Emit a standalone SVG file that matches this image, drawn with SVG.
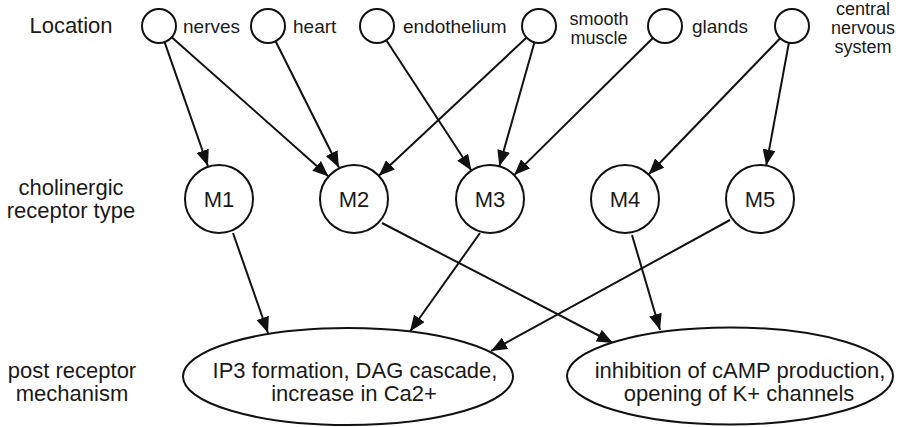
<svg xmlns="http://www.w3.org/2000/svg" width="899" height="427" viewBox="0 0 899 427">
<style>
  .node { fill: #fff; stroke: #111; stroke-width: 2; }
  .edge { stroke: #111; stroke-width: 2; fill: none; marker-end: url(#arrow); }
  text { font-family: "Liberation Sans", Arial, Helvetica, sans-serif; fill: #1a1a1a; }
  .lbl { font-size: 22px; text-anchor: middle; }
  .loc { font-size: 19px; }
  .locm { font-size: 18px; text-anchor: middle; }
</style>
<defs>
  <marker id="arrow" viewBox="0 0 16 13" refX="16" refY="6.5" markerWidth="16" markerHeight="13" markerUnits="userSpaceOnUse" orient="auto">
    <path d="M0,0 L16,6.5 L0,13 z" fill="#111"/>
  </marker>
</defs>
<rect width="899" height="427" fill="#fff"/>

<g id="row-labels">
  <text class="lbl" x="71" y="33">Location</text>
  <text class="lbl" x="71" y="195">cholinergic</text>
  <text class="lbl" x="71" y="218">receptor type</text>
  <text class="lbl" x="72" y="378">post receptor</text>
  <text class="lbl" x="72" y="401">mechanism</text>
</g>

<g id="connectors">
  <line class="edge" x1="164.6" y1="42.1" x2="207.9" y2="166"/>
  <line class="edge" x1="171.7" y1="37.3" x2="328.6" y2="176.4"/>
  <line class="edge" x1="275.6" y1="41.2" x2="338.9" y2="167.5"/>
  <line class="edge" x1="386.3" y1="40.2" x2="471.4" y2="170.5"/>
  <line class="edge" x1="526.6" y1="37.6" x2="378.8" y2="175.8"/>
  <line class="edge" x1="534.4" y1="42.4" x2="499.3" y2="166.3"/>
  <line class="edge" x1="652.9" y1="38" x2="514.2" y2="175.1"/>
  <line class="edge" x1="780.2" y1="38.2" x2="648.6" y2="174.5"/>
  <line class="edge" x1="788.9" y1="42.7" x2="766.2" y2="165.6"/>
  <line class="edge" x1="233" y1="233" x2="268" y2="333"/>
  <line class="edge" x1="480" y1="233" x2="410" y2="331.5"/>
  <line class="edge" x1="730" y1="220" x2="491" y2="351"/>
  <line class="edge" x1="382" y1="223" x2="613" y2="343"/>
  <line class="edge" x1="632" y1="235" x2="660" y2="330"/>
</g>

<g id="loc-nerves">
  <circle class="node" cx="159" cy="26" r="17"/>
  <text class="loc" x="183" y="33">nerves</text>
</g>
<g id="loc-heart">
  <circle class="node" cx="268" cy="26" r="17"/>
  <text class="loc" x="293" y="33">heart</text>
</g>
<g id="loc-endothelium">
  <circle class="node" cx="377" cy="26" r="17"/>
  <text class="loc" x="403" y="33">endothelium</text>
</g>
<g id="loc-smooth-muscle">
  <circle class="node" cx="539" cy="26" r="17"/>
  <text class="locm" x="599" y="25">smooth</text>
  <text class="locm" x="599" y="44">muscle</text>
</g>
<g id="loc-glands">
  <circle class="node" cx="665" cy="26" r="17"/>
  <text class="loc" x="692" y="33">glands</text>
</g>
<g id="loc-cns">
  <circle class="node" cx="792" cy="26" r="17"/>
  <text class="locm" x="863" y="15">central</text>
  <text class="locm" x="863" y="34">nervous</text>
  <text class="locm" x="863" y="53">system</text>
</g>

<g id="M1">
  <circle class="node" cx="219" cy="199" r="34"/>
  <text class="lbl" x="219" y="207">M1</text>
</g>
<g id="M2">
  <circle class="node" cx="354" cy="199" r="34"/>
  <text class="lbl" x="354" y="207">M2</text>
</g>
<g id="M3">
  <circle class="node" cx="490" cy="199" r="34"/>
  <text class="lbl" x="490" y="207">M3</text>
</g>
<g id="M4">
  <circle class="node" cx="625" cy="199" r="34"/>
  <text class="lbl" x="625" y="207">M4</text>
</g>
<g id="M5">
  <circle class="node" cx="760" cy="199" r="34"/>
  <text class="lbl" x="760" y="207">M5</text>
</g>

<g id="mech-ip3">
  <ellipse class="node" cx="348" cy="376.5" rx="165" ry="48.5"/>
  <text class="lbl" x="355" y="378">IP3 formation, DAG cascade,</text>
  <text class="lbl" x="354" y="401">increase in Ca2+</text>
</g>
<g id="mech-camp">
  <ellipse class="node" cx="730" cy="376" rx="163" ry="48.5"/>
  <text class="lbl" x="740" y="378">inhibition of cAMP production,</text>
  <text class="lbl" x="739" y="401">opening of K+ channels</text>
</g>
</svg>
